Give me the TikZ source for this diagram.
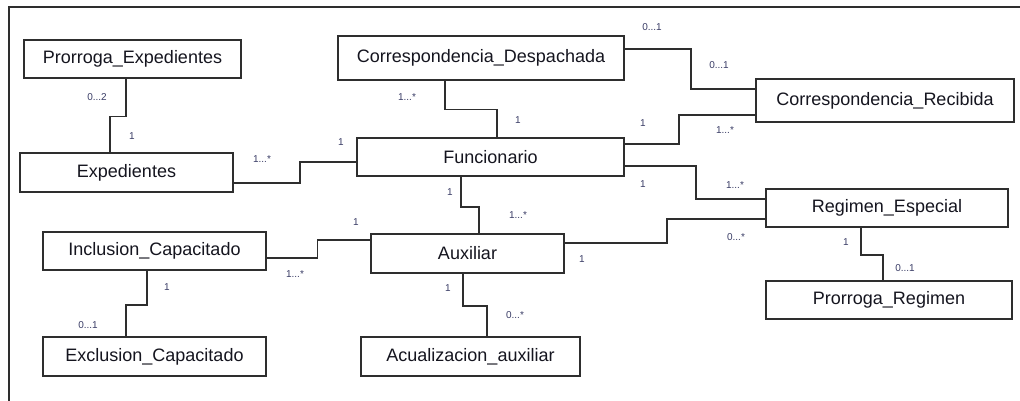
\documentclass[tikz,border=0pt]{standalone}
\usepackage{fontspec}
\setmainfont{Liberation Sans}
\usetikzlibrary{positioning}
\definecolor{boxline}{HTML}{2E2E2E}
\definecolor{boxtext}{HTML}{15151F}
\definecolor{multcol}{HTML}{3A3D66}
\tikzset{
  entity/.style={draw=boxline, line width=1.5pt, rectangle, inner sep=0pt,
    text=boxtext, font=\fontsize{18}{20}\selectfont, fill=white},
  link/.style={draw=boxline, line width=1.5pt},
  mult/.style={text=multcol, font=\fontsize{10}{11}\selectfont, inner sep=0pt},
  frameline/.style={draw=boxline, line width=1.8pt}
}
\newcommand{\ent}[6]{% name, x1,y1,x2,y2, text
  \node[entity, minimum width=#4pt-#2pt, minimum height=#5pt-#3pt]
    (#1) at ({(#2+#4)/2},{(#3+#5)/2}) {#6};}
\begin{document}
\begin{tikzpicture}[x=1pt,y=-1pt]
\useasboundingbox (0,0) rectangle (1020,401);
\fill[white] (0,0) rectangle (1020,401);
\draw[frameline] (9,401) -- (9,7) -- (1020,7);

% entities
\ent{pe}{24}{40}{241}{78}{Prorroga\_Expedientes}
\ent{exp}{20}{153}{233}{192}{Expedientes}
\ent{desp}{338}{36}{624}{80}{Correspondencia\_Despachada}
\ent{fun}{357}{138}{624}{176}{Funcionario}
\ent{rec}{756}{79}{1014}{122}{Correspondencia\_Recibida}
\ent{reg}{766}{189}{1008}{227}{Regimen\_Especial}
\ent{pr}{766}{281}{1012}{319}{Prorroga\_Regimen}
\ent{aux}{371}{234}{564}{273}{Auxiliar}
\ent{inc}{43}{232}{266}{270}{Inclusion\_Capacitado}
\ent{exc}{43}{337}{266}{376}{Exclusion\_Capacitado}
\ent{acu}{361}{337}{580}{376}{Acualizacion\_auxiliar}

% connectors
\draw[link] ([xshift=-6.5pt]pe.south) -- ++(0,38) -| ([xshift=-16.5pt]exp.north);
\draw[link] ([yshift=-10.5pt]exp.east) -- ++(66,0) |- ([yshift=-5pt]fun.west);
\draw[link] ([xshift=-36pt]desp.south) -- ++(0,29) -| ([xshift=6.5pt]fun.north);
\draw[link] ([yshift=9pt]desp.east) -- ++(66,0) |- ([yshift=11.5pt]rec.west);
\draw[link] ([yshift=13pt]fun.east) -- ++(54,0) |- ([yshift=-14.5pt]rec.west);
\draw[link] ([yshift=-9pt]fun.east) -- ++(71,0) |- ([yshift=9pt]reg.west);
\draw[link] ([xshift=-29.5pt]fun.south) -- ++(0,30) -| ([xshift=11.5pt]aux.north);
\draw[link] ([yshift=10.5pt]aux.east) -- ++(102,0) |- ([yshift=-11pt]reg.west);
\draw[link] ([xshift=-26pt]reg.south) -- ++(0,27) -| ([xshift=-6pt]pr.north);
\draw[link] ([yshift=13.5pt]aux.west) -- ++(-53,0) |- ([yshift=-7pt]inc.east);
\draw[link] ([xshift=-7.5pt]inc.south) -- ++(0,34) -| ([xshift=-28.5pt]exc.north);
\draw[link] ([xshift=-4.5pt]aux.south) -- ++(0,32) -| ([xshift=16.5pt]acu.north);

% multiplicities
\node[mult] (m1) at (97,97) {0...2};
\node[mult] (m2) at (132,136) {1};
\node[mult] (m3) at (262,159) {1...*};
\node[mult] (m4) at (341,142) {1};
\node[mult] (m5) at (407,97) {1...*};
\node[mult] (m6) at (518,120) {1};
\node[mult] (m7) at (652,27) {0...1};
\node[mult] (m8) at (719,65) {0...1};
\node[mult] (m9) at (643,123) {1};
\node[mult] (m10) at (725,130) {1...*};
\node[mult] (m11) at (643,184) {1};
\node[mult] (m12) at (735,185) {1...*};
\node[mult] (m13) at (450,192) {1};
\node[mult] (m14) at (518,215) {1...*};
\node[mult] (m15) at (356,222) {1};
\node[mult] (m16) at (295,274) {1...*};
\node[mult] (m17) at (736,237) {0...*};
\node[mult] (m18) at (582,259) {1};
\node[mult] (m19) at (846,242) {1};
\node[mult] (m20) at (905,268) {0...1};
\node[mult] (m21) at (167,287) {1};
\node[mult] (m22) at (88,325) {0...1};
\node[mult] (m23) at (448,288) {1};
\node[mult] (m24) at (515,315) {0...*};
\end{tikzpicture}
\end{document}
